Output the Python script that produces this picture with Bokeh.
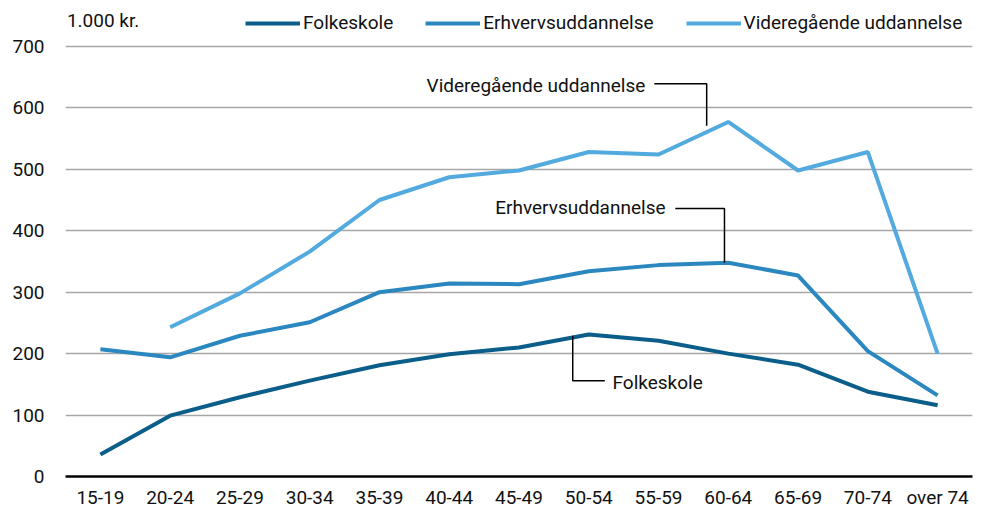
from bokeh.plotting import figure
from bokeh.models import Range1d, FixedTicker, Legend, LegendItem, Label
from bokeh.embed import file_html
from bokeh.resources import INLINE

categories = ["15-19", "20-24", "25-29", "30-34", "35-39", "40-44", "45-49",
              "50-54", "55-59", "60-64", "65-69", "70-74", "over 74"]
folkeskole = [36, 99, 129, 156, 181, 199, 210, 231, 221, 200, 182, 138, 116]
erhverv = [207, 194, 229, 251, 300, 314, 313, 334, 344, 348, 327, 204, 132]
videre = [None, 243, 298, 366, 450, 487, 498, 528, 524, 577, 498, 528, 200]
y_ticks = [0, 100, 200, 300, 400, 500, 600, 700]

FONT = "Roboto"
FS = "19px"
C1, C2, C3 = "#0b5e8a", "#2a87bf", "#52aadf"

xs = list(range(len(categories)))

p = figure(width=973, height=508, frame_width=907, frame_height=467,
           output_backend="svg", toolbar_location=None,
           x_range=Range1d(-0.5, len(categories) - 0.5), y_range=Range1d(0, 760),
           min_border_left=65, min_border_right=1, min_border_top=9, min_border_bottom=32)
p.outline_line_color = None
p.background_fill_color = "white"
p.border_fill_color = "white"

p.xaxis.ticker = FixedTicker(ticks=xs)
p.xaxis.major_label_overrides = {i: c for i, c in enumerate(categories)}
p.yaxis.ticker = FixedTicker(ticks=y_ticks)
for ax in (p.xaxis, p.yaxis):
    ax.major_tick_line_color = None
    ax.minor_tick_line_color = None
    ax.major_tick_out = 0
    ax.major_tick_in = 0
    ax.minor_tick_out = 0
    ax.minor_tick_in = 0
    ax.major_label_text_font = FONT
    ax.major_label_text_font_size = FS
    ax.major_label_text_color = "#111111"
p.yaxis.axis_line_color = None
p.yaxis.major_label_standoff = 21
p.xaxis.axis_line_color = "black"
p.xaxis.axis_line_width = 2.5
p.xaxis.major_label_standoff = 9
p.xgrid.grid_line_color = None
p.ygrid.grid_line_color = "#a6a6a6"
p.ygrid.grid_line_width = 1.5

r1 = p.line(xs, folkeskole, line_color=C1, line_width=4)
r2 = p.line(xs, erhverv, line_color=C2, line_width=4)
vx = [x for x, v in zip(xs, videre) if v is not None]
vy = [v for v in videre if v is not None]
r3 = p.line(vx, vy, line_color=C3, line_width=4)

legend = Legend(items=[LegendItem(label="Folkeskole", renderers=[r1]),
                       LegendItem(label="Erhvervsuddannelse", renderers=[r2]),
                       LegendItem(label="Videregående uddannelse", renderers=[r3])],
                orientation="horizontal", location=(180, 442),
                glyph_width=55, glyph_height=20, label_standoff=3, spacing=32,
                padding=0, margin=0, border_line_color=None, background_fill_alpha=0,
                label_text_font=FONT, label_text_font_size=FS, label_text_color="#111111")
p.add_layout(legend, "center")

p.add_layout(Label(x=-0.48, y=742, text="1.000 kr.", text_font=FONT, text_font_size=FS,
                   text_baseline="middle", text_color="#111111"))

# annotations with leader lines
p.line([7.94, 8.69, 8.69], [639, 639, 571], line_color="black", line_width=1.5)
p.add_layout(Label(x=7.81, y=636, text="Videregående uddannelse", text_font=FONT,
                   text_font_size=FS, text_align="right", text_baseline="middle", text_color="#111111"))
p.line([8.24, 8.945, 8.945], [436, 436, 348], line_color="black", line_width=1.5)
p.add_layout(Label(x=8.1, y=437, text="Erhvervsuddannelse", text_font=FONT,
                   text_font_size=FS, text_align="right", text_baseline="middle", text_color="#111111"))
p.line([6.77, 6.77, 7.23], [229, 156, 156], line_color="black", line_width=1.5)
p.add_layout(Label(x=7.34, y=153, text="Folkeskole", text_font=FONT,
                   text_font_size=FS, text_align="left", text_baseline="middle", text_color="#111111"))

open("out.html", "w").write(file_html(p, INLINE))
